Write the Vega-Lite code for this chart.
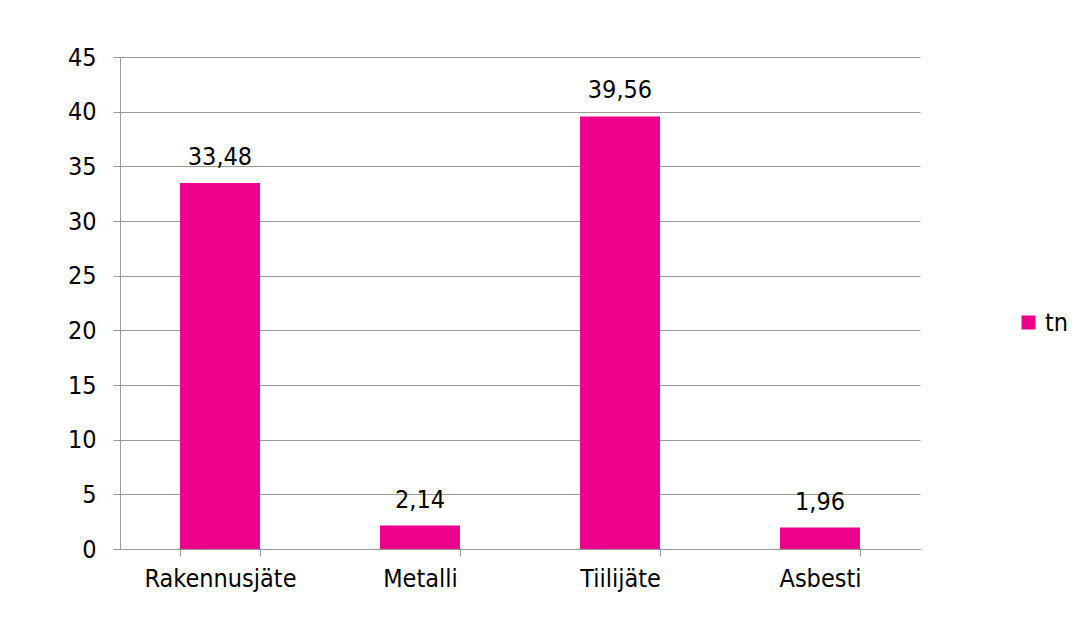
{
  "$schema": "https://vega.github.io/schema/vega-lite/v6.json",
  "width": 800,
  "height": 492,
  "autosize": {"type": "none"},
  "padding": {"left": 120, "top": 57, "right": 159, "bottom": 74},
  "background": "white",
  "data": {"values": [
    {"kategoria": "Rakennusjäte", "tn": 33.48, "sarja": "tn"},
    {"kategoria": "Metalli", "tn": 2.14, "sarja": "tn"},
    {"kategoria": "Tiilijäte", "tn": 39.56, "sarja": "tn"},
    {"kategoria": "Asbesti", "tn": 1.96, "sarja": "tn"}
  ]},
  "encoding": {
    "x": {"field": "kategoria", "type": "nominal", "sort": null,
      "scale": {"paddingInner": 0.6, "paddingOuter": 0.3},
      "axis": {"title": null, "labelAngle": 0, "labelFont": "DejaVu Sans Condensed", "labelFontSize": 25, "labelColor": "#000", "labelPadding": 10,
        "domainColor": "#999", "tickColor": "#999", "tickSize": 7, "tickBand": "extent", "grid": false}},
    "y": {"field": "tn", "type": "quantitative",
      "scale": {"domain": [0, 45], "nice": false},
      "axis": {"title": null, "values": [0,5,10,15,20,25,30,35,40,45], "labelFont": "DejaVu Sans Condensed", "labelFontSize": 25, "labelColor": "#000", "labelPadding": 17,
        "domainColor": "#999", "tickColor": "#999", "tickSize": 7, "gridColor": "#999", "grid": true}}
  },
  "layer": [
    {"mark": {"type": "bar", "color": "#EC008C"},
     "encoding": {"color": {"field": "sarja", "type": "nominal", "scale": {"range": ["#EC008C"]},
       "legend": {"title": null, "symbolType": "square", "symbolSize": 196, "symbolStrokeWidth": 0, "labelFont": "DejaVu Sans Condensed", "labelFontSize": 25, "labelColor": "#000", "labelOffset": 4, "orient": "none", "legendX": 896, "legendY": 253}}}},
    {"mark": {"type": "text", "baseline": "alphabetic", "dy": -18, "font": "DejaVu Sans Condensed", "fontSize": 25, "color": "#000"},
     "encoding": {"text": {"field": "tn", "type": "quantitative", "format": ".2f"}}}
  ],
  "config": {
    "locale": {"number": {"decimal": ",", "thousands": " ", "grouping": [3], "currency": ["", " €"]}},
    "view": {"stroke": null}
  }
}
